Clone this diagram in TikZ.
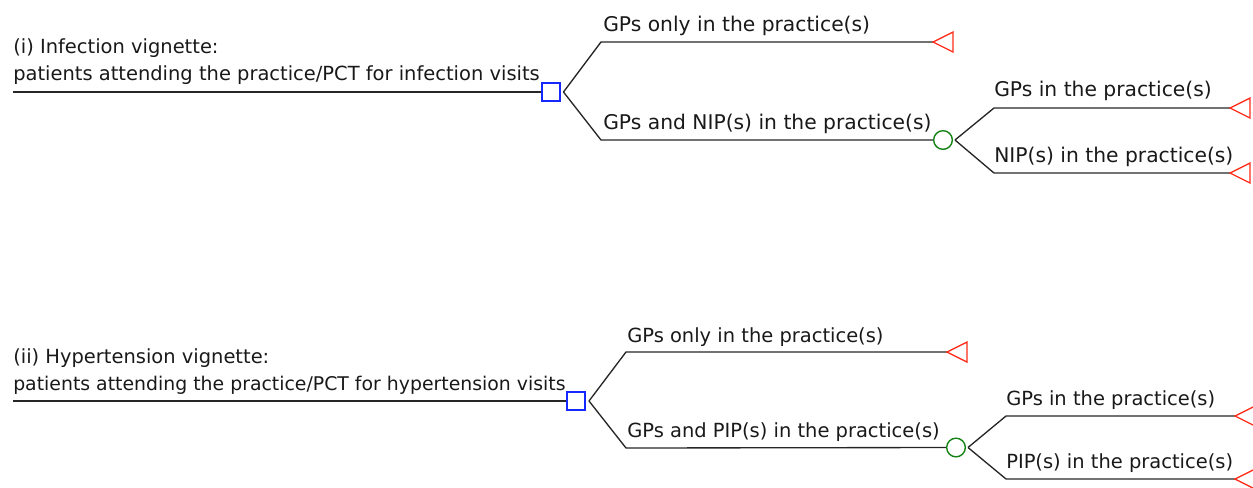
\documentclass[tikz,border=0pt]{standalone}
\usepackage{fontspec}
\setmainfont{DejaVu Sans}
\definecolor{decblue}{RGB}{20,40,255}
\definecolor{chgreen}{RGB}{20,130,20}
\definecolor{termred}{RGB}{255,45,25}
\definecolor{txt}{RGB}{25,25,25}
\begin{document}
\begin{tikzpicture}[x=0.75pt,y=-0.75pt,
  lbl/.style={anchor=base west,inner sep=0pt,text=txt,font=\fontsize{14.6pt}{17pt}\selectfont},
  blbl/.style={lbl,font=\fontsize{15.2pt}{17pt}\selectfont},
  slbl/.style={lbl,font=\fontsize{14.15pt}{17pt}\selectfont},
  decision/.style={draw=decblue,rectangle,line width=1.2pt,minimum size=13.5pt,inner sep=0pt},
  chance/.style={draw=chgreen,circle,line width=1.05pt,minimum width=13.5pt,minimum height=14pt,inner sep=0pt},
  branch/.style={draw=black!85,line width=1pt},
  term/.style={draw=termred,line width=1pt}]
\useasboundingbox (0,0) rectangle (1253,487);

% ---------------- nodes ----------------
\node[decision] (d1) at (551,92) {};
\node[chance] (c1) at (943,140) {};
\node[decision] (d2) at (576,401) {};
\node[chance] (c2) at (956,447.5) {};

% ---------------- Tree (i) ----------------
\coordinate (r1) at (13,92);
\coordinate (b1) at (563.5,92);
\coordinate (u1) at (601,42);
\coordinate (l1) at (601,140);
\coordinate (t1) at (933,42);
\coordinate (cb1) at (955,140);
\coordinate (u1b) at (994,108);
\coordinate (l1b) at (994,173);
\coordinate (t1b) at (1230,108);
\coordinate (t1c) at (1230,173);

\draw[branch] (r1) -- (d1.west);
\draw[branch] (b1) -- (u1) -- (t1);
\draw[branch] (b1) -- (l1) -- (c1.west);
\draw[branch] (cb1) -- (u1b) -- (t1b);
\draw[branch] (cb1) -- (l1b) -- (t1c);
\draw[term] (t1) -- ++(20,-10) -- ++(0,20) -- cycle;
\draw[term] (t1b) -- ++(20,-10) -- ++(0,20) -- cycle;
\draw[term] (t1c) -- ++(20,-10) -- ++(0,20) -- cycle;

\node[lbl] (h1a) at (13,53) {(i) Infection vignette:};
\node[lbl] (h1b) at (13,80) {patients attending the practice/PCT for infection visits};
\node[blbl] (g1) at (603,31) {GPs only in the practice(s)};
\node[blbl] (g2) at (603,129) {GPs and NIP(s) in the practice(s)};
\node[blbl] (g3) at (994,96) {GPs in the practice(s)};
\node[blbl] (g4) at (994,162) {NIP(s) in the practice(s)};

% ---------------- Tree (ii) ----------------
\coordinate (r2) at (13,401);
\coordinate (b2) at (589,401);
\coordinate (u2) at (626,352);
\coordinate (l2) at (626,448);
\coordinate (t2) at (947,352);
\coordinate (cb2) at (968,447.5);
\coordinate (u2b) at (1006,416);
\coordinate (l2b) at (1006,479);
\coordinate (t2b) at (1235,416);
\coordinate (t2c) at (1235,479);

\draw[branch] (r2) -- (d2.west);
\draw[branch] (b2) -- (u2) -- (t2);
\draw[branch] (b2) -- (l2) -- (c2.west);
\draw[branch] (cb2) -- (u2b) -- (t2b);
\draw[branch] (cb2) -- (l2b) -- (t2c);
\draw[term] (t2) -- ++(20,-10) -- ++(0,20) -- cycle;
\draw[term] (t2b) -- ++(20,-10) -- ++(0,20) -- cycle;
\draw[term] (t2c) -- ++(20,-10) -- ++(0,20) -- cycle;

\node[lbl] (h2a) at (13,363) {(ii) Hypertension vignette:};
\node[slbl] (h2b) at (13,390) {patients attending the practice/PCT for hypertension visits};
\node[lbl] (k1) at (627,342) {GPs only in the practice(s)};
\node[lbl] (k2) at (627,437) {GPs and PIP(s) in the practice(s)};
\node[lbl] (k3) at (1006,405) {GPs in the practice(s)};
\node[lbl] (k4) at (1006,468) {PIP(s) in the practice(s)};
\end{tikzpicture}
\end{document}
